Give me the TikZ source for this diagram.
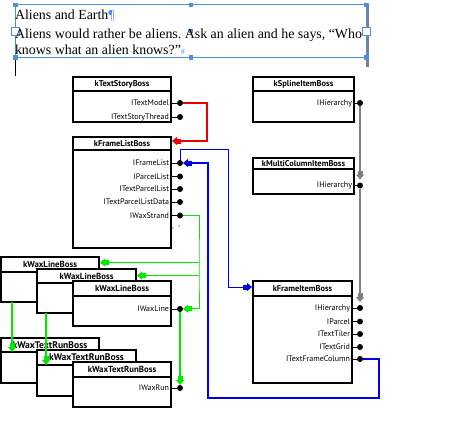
\documentclass[tikz,border=0pt]{standalone}
\usepackage{fontspec}
\setmainfont{Liberation Serif}
\newfontfamily\bossfont{PT Sans}
\usetikzlibrary{arrows.meta,calc}

\definecolor{selblue}{RGB}{74,144,226}
\definecolor{wirered}{RGB}{235,0,0}
\definecolor{wireblue}{RGB}{0,0,230}
\definecolor{wiregreen}{RGB}{0,235,0}
\definecolor{wiregray}{RGB}{128,128,128}

\newcommand\hs{\hbox to .25em{\hss\textcolor{selblue}{\fontsize{6}{6}\selectfont\textperiodcentered}\hss}}

\begin{document}
\begin{tikzpicture}[x=1pt,y=-1pt]
\tikzstyle{every node}=[inner sep=0pt,outer sep=0pt]
\tikzstyle{boss}=[draw,line width=2pt,fill=white,anchor=north west,minimum width=98pt]
\tikzstyle{head}=[boss,font=\bossfont\bfseries\fontsize{8.4}{9}\selectfont]
\tikzstyle{iface}=[anchor=east,font=\bossfont\fontsize{8}{8}\selectfont]
\tikzstyle{port}=[circle,fill=black,minimum size=6pt]
\tikzstyle{wire}=[line width=1pt,-{Rectangle[length=4pt,width=5pt]Triangle[length=5pt,width=8pt]}]
\tikzstyle{handle}=[draw=selblue,fill=selblue,minimum size=3.5pt]
\tikzstyle{story}=[anchor=base west,font=\fontsize{13.9}{16}\selectfont]

\useasboundingbox (0,0) rectangle (462,428);

% text frame
\fill[wiregray] (366,7) rectangle (369,67);
\draw (15,57) -- (15,76);
\path (15,4.5) node[draw=selblue,line width=1pt,anchor=north west,minimum width=351pt,minimum height=52.5pt] (frame) {};
\foreach \a/\n in {north west/nw,north/n,north east/ne,south west/sw,south/s,south east/se,center/c}
   \path (frame.\a) node[handle] (h\n) {};
\foreach \a/\n in {west/w,east/e}
   \path (frame.\a) node[handle,fill=white,minimum size=8pt] (h\n) {};
\path (15,20) node[story] (title) {Aliens\hs and\hs Earth\textcolor{selblue}{¶}};
\path (15,38) node[story] (lineA) {Aliens\hs would\hs rather\hs be\hs aliens.\hs Ask\hs an\hs alien\hs and\hs he\hs says,\hs “Who};
\path (15,55) node[story] (lineB) {knows\hs what\hs an\hs alien\hs knows?”\textcolor{selblue}{\fontsize{8}{8}\selectfont\#}};

% kTextStoryBoss
\path (73,77) node[boss,minimum height=45pt] (tsBoss) {};
\path (73,77) node[head,minimum height=14pt] (tsHead) {kTextStoryBoss};
\foreach \n/\y/\t in {textModel/103/ITextModel,textStoryThread/117/ITextStoryThread}
{
   \path (169,\y) node[iface] (\n) {\t};
   \path (180,\y) node[port] (\n-p) {};
   \draw (tsBoss.east |- \n-p) -- (\n-p);
}

% kFrameListBoss
\path (73,137) node[boss,minimum height=111pt] (flBoss) {};
\path (73,137) node[head,minimum height=13pt] (flHead) {kFrameListBoss};
\foreach \n/\y/\t in {frameList/163/IFrameList,parcelList/176.5/IParcelList,textParcelList/189/ITextParcelList,textParcelListData/202/ITextParcelListData,waxStrand/215.5/IWaxStrand}
{
   \path (169,\y) node[iface] (\n) {\t};
   \path (180,\y) node[port] (\n-p) {};
   \draw (flBoss.east |- \n-p) -- (\n-p);
}
\fill (179,226) circle (0.7);
\fill (173,228) circle (0.7);

% kSplineItemBoss
\path (253,77) node[boss,minimum width=101pt,minimum height=45pt] (spBoss) {};
\path (253,77) node[head,minimum width=101pt,minimum height=14pt] (spHead) {kSplineItemBoss};
\path (352,103) node[iface] (splHier) {IHierarchy};
\path (360,103) node[port] (splHier-p) {};
\draw (spBoss.east |- splHier-p) -- (splHier-p);

% kMultiColumnItemBoss
\path (253,158) node[boss,minimum width=101pt,minimum height=36pt] (mcBoss) {};
\path (253,158) node[head,minimum width=101pt,minimum height=11pt] (mcHead) {kMultiColumnItemBoss};
\path (352,185.5) node[iface] (mcHier) {IHierarchy};
\path (360,185.5) node[port] (mcHier-p) {};
\draw (mcBoss.east |- mcHier-p) -- (mcHier-p);

% kFrameItemBoss
\path (253,281) node[boss,minimum width=99pt,minimum height=102pt] (fiBoss) {};
\path (253,281) node[head,minimum width=99pt,minimum height=15pt] (fiHead) {kFrameItemBoss};
\foreach \n/\y/\t in {fiHier/308/IHierarchy,parcel/321.5/IParcel,textTiler/334/ITextTiler,textGrid/347/ITextGrid,textFrameColumn/359/ITextFrameColumn}
{
   \path (350,\y) node[iface] (\n) {\t};
   \path (360,\y) node[port] (\n-p) {};
   \draw (fiBoss.east |- \n-p) -- (\n-p);
}

% kWaxLineBoss stack
\path (1,257) node[boss,minimum height=45pt] (wl1Boss) {};
\path (1,257) node[head,minimum height=15pt,font=\bossfont\bfseries\fontsize{8.8}{9}\selectfont] (wl1Head) {kWaxLineBoss};
\path (37,269) node[boss,minimum width=99pt,minimum height=44pt] (wl2Boss) {};
\path (37,269) node[head,minimum width=99pt,minimum height=14pt,font=\bossfont\bfseries\fontsize{8.8}{9}\selectfont] (wl2Head) {kWaxLineBoss};
\path (73,281) node[boss,minimum height=45pt] (wl3Boss) {};
\path (73,281) node[head,minimum height=15pt,font=\bossfont\bfseries\fontsize{8.8}{9}\selectfont] (wl3Head) {kWaxLineBoss};
\path (169,309) node[iface] (waxLine) {IWaxLine};
\path (180,309) node[port] (waxLine-p) {};
\draw (wl3Boss.east |- waxLine-p) -- (waxLine-p);

% kWaxTextRunBoss stack
\path (1,338) node[boss,minimum height=45pt] (wr1Boss) {};
\path (1,338) node[head,minimum height=14pt,font=\bossfont\bfseries\fontsize{9.6}{10}\selectfont] (wr1Head) {kWaxTextRunBoss};
\path (37,350) node[boss,minimum width=99pt,minimum height=46pt] (wr2Boss) {};
\path (37,350) node[head,minimum width=99pt,minimum height=15pt,font=\bossfont\bfseries\fontsize{9.6}{10}\selectfont] (wr2Head) {kWaxTextRunBoss};
\path (73,362) node[boss,minimum height=45pt] (wr3Boss) {};
\path (73,362) node[head,minimum height=15pt,font=\bossfont\bfseries\fontsize{8.8}{9}\selectfont] (wr3Head) {kWaxTextRunBoss};
\path (169,388) node[iface] (waxRun) {IWaxRun};
\path (180,388) node[port] (waxRun-p) {};
\draw (wr3Boss.east |- waxRun-p) -- (waxRun-p);

% wires
\draw[wire,wirered,line width=2pt] (textModel-p) -- ++(27,0) |- ([shift={(1pt,-4pt)}]flBoss.north east);
\draw[wire,wireblue] (frameList-p) -- ++(0,-14) -- ++(48,0) |- ([shift={(-1pt,-6pt)}]fiBoss.north west);
\draw[wire,wireblue,line width=2pt] (textFrameColumn-p) -| ++(19,39) -| ++(-171,-235) -- (frameList-p);
\draw[wire,wiregray,line width=1.5pt,shorten >=3pt] (splHier-p) -- (mcHier-p);
\draw[wire,wiregray,line width=1.5pt,shorten >=3pt] (mcHier-p) -- (fiHier-p);
\draw[wiregreen] (waxStrand-p) -- ++(19,0) -- ++(0,47) coordinate (gA) -- ++(0,13) coordinate (gB) -- ++(0,33) coordinate (gC);
\draw[wire,wiregreen] (gC) -- (waxLine-p);
\draw[wire,wiregreen] (gA) -- ([xshift=1pt]wl1Boss.east |- gA);
\draw[wire,wiregreen] (gB) -- ([xshift=1pt]wl2Boss.east |- gB);
\draw[wire,wiregreen,line width=2pt] (waxLine-p) -- (waxRun-p);
\draw[wire,wiregreen,line width=2pt] ([xshift=11pt]wl1Boss.south west) -- ([xshift=11pt]wr1Head.south west);
\draw[wire,wiregreen,line width=2pt] ([xshift=9pt]wl2Boss.south west) -- ([xshift=9pt]wr2Head.south west);
\end{tikzpicture}
\end{document}
